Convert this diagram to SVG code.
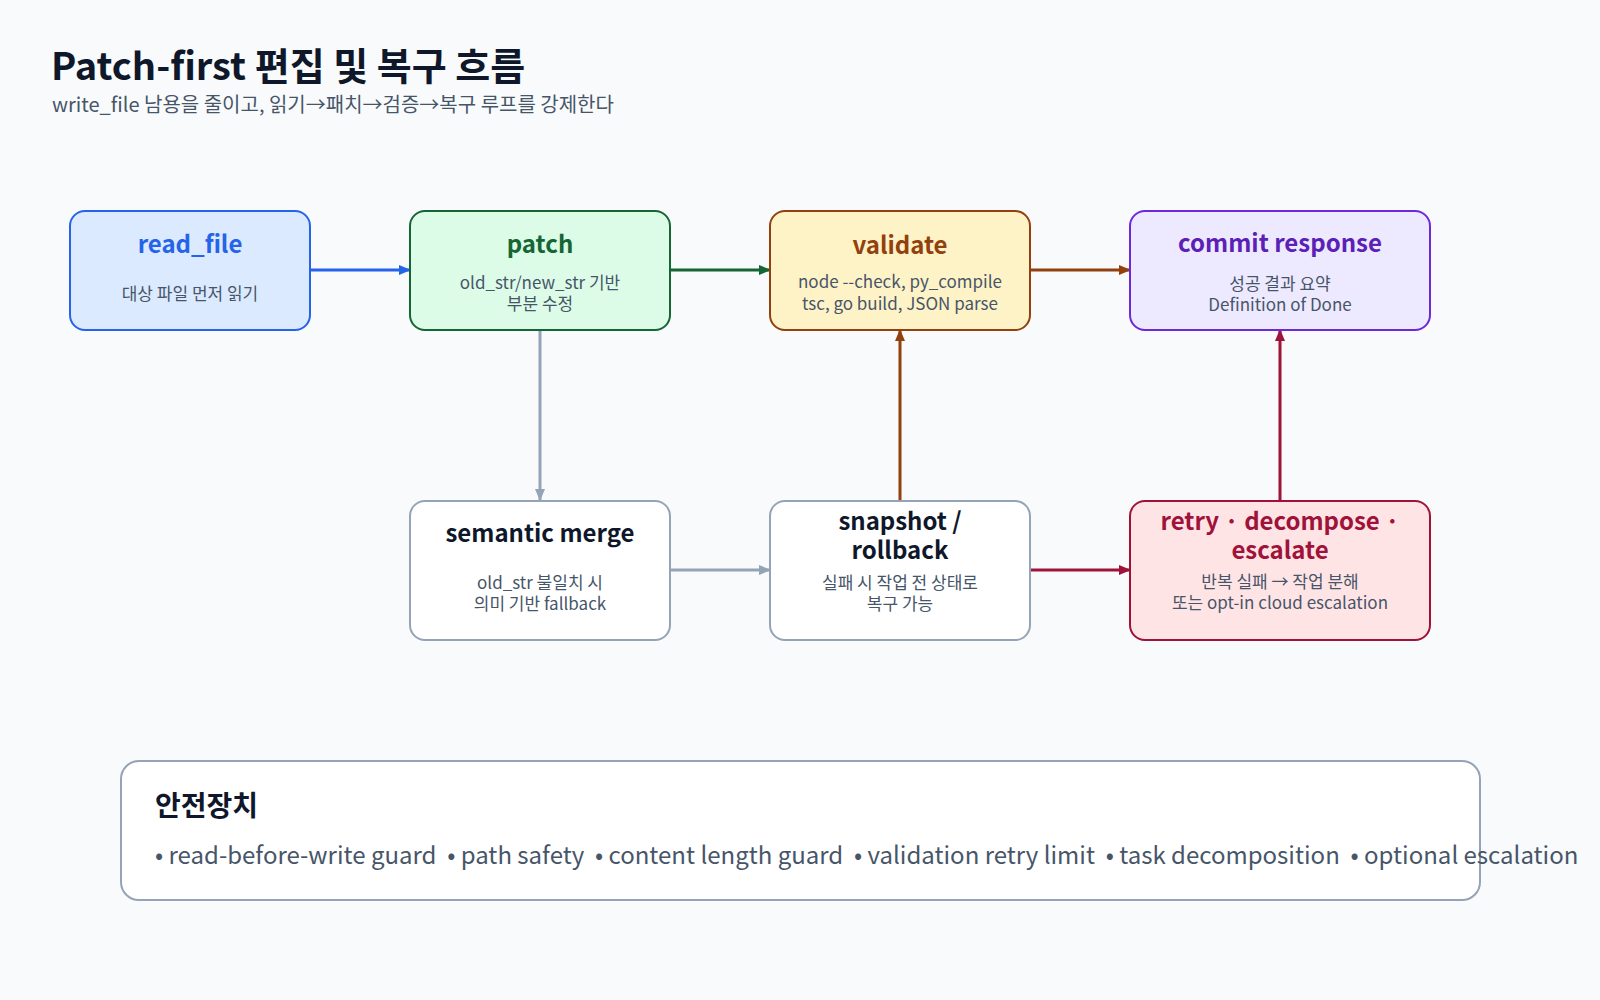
<svg xmlns="http://www.w3.org/2000/svg" width="1600" height="1000" viewBox="0 0 1600 1000">
<defs>
<style>
text{font-family:"Noto Sans CJK KR","Noto Sans",sans-serif}
.t{font-size:24px;font-weight:700;text-anchor:middle}
.s{font-size:17px;fill:#475569;text-anchor:middle}
.c{fill:none;stroke-width:3}
</style>
<marker id="mb" markerWidth="12" markerHeight="12" refX="11" refY="6" orient="auto" markerUnits="userSpaceOnUse"><path d="M0,1 L12,6 L0,11 z" fill="#2563eb"/></marker>
<marker id="mg" markerWidth="12" markerHeight="12" refX="11" refY="6" orient="auto" markerUnits="userSpaceOnUse"><path d="M0,1 L12,6 L0,11 z" fill="#166534"/></marker>
<marker id="mo" markerWidth="12" markerHeight="12" refX="11" refY="6" orient="auto" markerUnits="userSpaceOnUse"><path d="M0,1 L12,6 L0,11 z" fill="#92400e"/></marker>
<marker id="ms" markerWidth="12" markerHeight="12" refX="11" refY="6" orient="auto" markerUnits="userSpaceOnUse"><path d="M0,1 L12,6 L0,11 z" fill="#94a3b8"/></marker>
<marker id="mr" markerWidth="12" markerHeight="12" refX="11" refY="6" orient="auto" markerUnits="userSpaceOnUse"><path d="M0,1 L12,6 L0,11 z" fill="#9f1239"/></marker>
</defs>
<rect width="1600" height="1000" fill="#f8fafc"/>
<text x="51" y="80" font-size="38" font-weight="700" fill="#0f172a">Patch-first 편집 및 복구 흐름</text>
<text x="52" y="112" font-size="20" fill="#475569">write_file 남용을 줄이고, 읽기→패치→검증→복구 루프를 강제한다</text>

<g id="connectors">
<line class="c" x1="310" y1="270" x2="410" y2="270" stroke="#2563eb" marker-end="url(#mb)"/>
<line class="c" x1="670" y1="270" x2="770" y2="270" stroke="#166534" marker-end="url(#mg)"/>
<line class="c" x1="1030" y1="270" x2="1130" y2="270" stroke="#92400e" marker-end="url(#mo)"/>
<line class="c" x1="540" y1="330" x2="540" y2="500" stroke="#94a3b8" marker-end="url(#ms)"/>
<line class="c" x1="670" y1="570" x2="770" y2="570" stroke="#94a3b8" marker-end="url(#ms)"/>
<line class="c" x1="900" y1="500" x2="900" y2="330" stroke="#92400e" marker-end="url(#mo)"/>
<line class="c" x1="1030" y1="570" x2="1130" y2="570" stroke="#9f1239" marker-end="url(#mr)"/>
<line class="c" x1="1280" y1="500" x2="1280" y2="330" stroke="#9f1239" marker-end="url(#mr)"/>
</g>

<g id="read_file">
<rect x="70" y="211" width="240" height="119" rx="15" fill="#dbeafe" stroke="#2563eb" stroke-width="2"/>
<text class="t" x="190" y="253" fill="#2563eb">read_file</text>
<text class="s" x="190" y="300">대상 파일 먼저 읽기</text>
</g>
<g id="patch">
<rect x="410" y="211" width="260" height="119" rx="15" fill="#dcfce7" stroke="#166534" stroke-width="2"/>
<text class="t" x="540" y="253" fill="#166534">patch</text>
<text class="s" x="540" y="289"><tspan x="540" y="289">old_str/new_str 기반</tspan><tspan x="540" y="310">부분 수정</tspan></text>
</g>
<g id="validate">
<rect x="770" y="211" width="260" height="119" rx="15" fill="#fef3c7" stroke="#92400e" stroke-width="2"/>
<text class="t" x="900" y="254" fill="#92400e">validate</text>
<text class="s" x="900" y="288"><tspan x="900" y="288">node --check, py_compile</tspan><tspan x="900" y="310">tsc, go build, JSON parse</tspan></text>
</g>
<g id="commit_response">
<rect x="1130" y="211" width="300" height="119" rx="15" fill="#ede9fe" stroke="#6d28d9" stroke-width="2"/>
<text class="t" x="1280" y="252" fill="#5b21b6">commit response</text>
<text class="s" x="1280" y="290"><tspan x="1280" y="290">성공 결과 요약</tspan><tspan x="1280" y="311">Definition of Done</tspan></text>
</g>
<g id="semantic_merge">
<rect x="410" y="501" width="260" height="139" rx="15" fill="#ffffff" stroke="#94a3b8" stroke-width="2"/>
<text class="t" x="540" y="542" fill="#0f172a">semantic merge</text>
<text class="s" x="540" y="589"><tspan x="540" y="589">old_str 불일치 시</tspan><tspan x="540" y="610">의미 기반 fallback</tspan></text>
</g>
<g id="snapshot_rollback">
<rect x="770" y="501" width="260" height="139" rx="15" fill="#ffffff" stroke="#94a3b8" stroke-width="2"/>
<text class="t" x="900" y="530" fill="#0f172a"><tspan x="900" y="530">snapshot /</tspan><tspan x="900" y="559">rollback</tspan></text>
<text class="s" x="900" y="589"><tspan x="900" y="589">실패 시 작업 전 상태로</tspan><tspan x="900" y="610">복구 가능</tspan></text>
</g>
<g id="retry_decompose_escalate">
<rect x="1130" y="501" width="300" height="139" rx="15" fill="#ffe4e6" stroke="#9f1239" stroke-width="2"/>
<text class="t" x="1280" y="530" fill="#9f1239"><tspan x="1280" y="530">retry · decompose ·</tspan><tspan x="1280" y="559">escalate</tspan></text>
<text class="s" x="1280" y="588"><tspan x="1280" y="588">반복 실패 → 작업 분해</tspan><tspan x="1280" y="609">또는 opt-in cloud escalation</tspan></text>
</g>
<g id="safety">
<rect x="121" y="761" width="1359" height="139" rx="18" fill="#ffffff" stroke="#94a3b8" stroke-width="2"/>
<text x="155" y="816" font-size="28" font-weight="700" fill="#0f172a">안전장치</text>
<text x="155" y="864" font-size="24" fill="#475569" xml:space="preserve" style="white-space:pre">• read-before-write guard  • path safety  • content length guard  • validation retry limit  • task decomposition  • optional escalation</text>
</g>
</svg>
